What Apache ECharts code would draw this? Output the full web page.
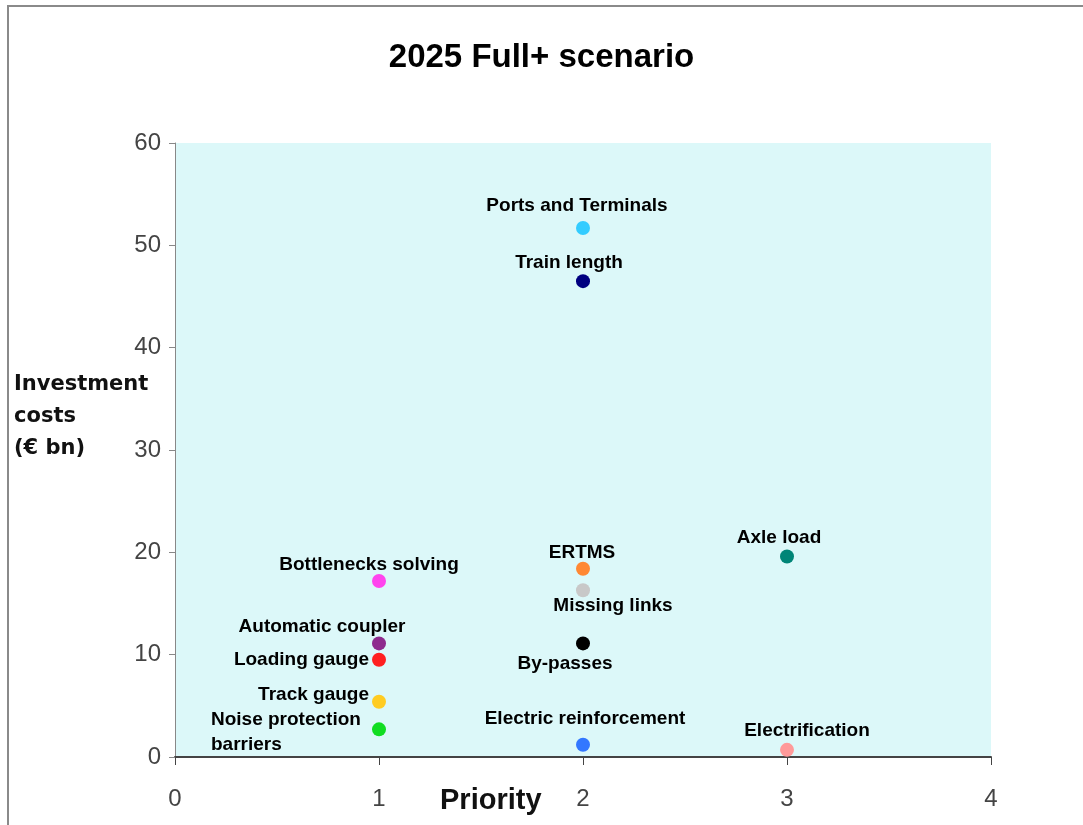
<!DOCTYPE html>
<html>
<head>
<meta charset="utf-8">
<script src="https://cdn.jsdelivr.net/npm/echarts@6/dist/echarts.min.js"></script>
<style>
  html, body { margin: 0; padding: 0; background: #fff; }
  #chart { width: 1083px; height: 825px; }
</style>
</head>
<body>
<div id="chart"></div>
<script>
// data
const projects = ['Ports and Terminals', 'Train length', 'Axle load', 'Bottlenecks solving', 'ERTMS',
  'Missing links', 'By-passes', 'Automatic coupler', 'Loading gauge', 'Track gauge',
  'Noise protection\nbarriers', 'Electric reinforcement', 'Electrification']
const priority = [2, 2, 3, 1, 2, 2, 2, 1, 1, 1, 1, 2, 3]
const cost = [51.7, 46.5, 19.6, 17.2, 18.4, 16.3, 11.1, 11.1, 9.5, 5.4, 2.7, 1.2, 0.7]
const colors = ['#33ccff', '#000080', '#008577', '#ff44ee', '#ff8833', '#c8c8c8', '#000000',
  '#8e2a8e', '#ff2020', '#ffcc22', '#11dd22', '#3377ff', '#ff9a9a']
const xTicks = [0, 1, 2, 3, 4]
const yTicks = [0, 10, 20, 30, 40, 50, 60]

// label placement per point (style only)
const labelPlace = [
  {position: 'top', distance: 6, offset: [-6, 0]},
  {position: 'top', distance: 2, offset: [-14, 0]},
  {position: 'top', distance: 2, offset: [-8, 0]},
  {position: 'top', distance: 0, offset: [-10, 0]},
  {position: 'top', distance: -1, offset: [-1, 0]},
  {position: 'bottom', distance: -1, offset: [30, 0]},
  {position: 'bottom', distance: 4, offset: [-18, 0]},
  {position: 'top', distance: 0, offset: [-57, 0]},
  {position: 'left', distance: 3, offset: [0, 0]},
  {position: 'left', distance: 3, offset: [0, -7]},
  {position: [-161, -15], align: 'left', verticalAlign: 'top', lineHeight: 25},
  {position: 'top', distance: 9, offset: [2, 0]},
  {position: 'top', distance: 3, offset: [20, 0]}
]

const points = projects.map((name, i) => ({
  name: name,
  value: [priority[i], cost[i]],
  itemStyle: {color: colors[i], opacity: 1},
  label: Object.assign({show: true}, labelPlace[i])
}))

const myChart = echarts.init(document.getElementById('chart'))
const option = {
  backgroundColor: '#ffffff',
  animation: false,
  textStyle: {fontFamily: 'Liberation Sans'},
  title: {
    text: '2025 Full+ scenario',
    left: 'center',
    top: 36,
    textStyle: {fontSize: 33, fontWeight: 'bold', color: '#000', fontFamily: 'Liberation Sans'}
  },
  graphic: [
    {type: 'rect', shape: {x: 8, y: 6, width: 1090, height: 840},
      style: {fill: 'none', stroke: '#8a8a8a', lineWidth: 2}, silent: true},
    {type: 'text', left: 14, top: 369,
      style: {text: 'Investment\ncosts\n(€ bn)', fontSize: 21, fontWeight: 'bold', lineHeight: 32,
        fill: '#111', fontFamily: 'DejaVu Sans'}},
    {type: 'text', left: 440, top: 786,
      style: {text: 'Priority', fontSize: 29, fontWeight: 'bold', fill: '#111', fontFamily: 'Liberation Sans'}}
  ],
  grid: {
    left: 175, right: 92, top: 143, bottom: 68,
    show: true, backgroundColor: '#dcf8f9', borderWidth: 0
  },
  xAxis: {
    type: 'value',
    min: xTicks[0], max: xTicks[xTicks.length - 1], interval: 1,
    axisLine: {show: true, onZero: false, lineStyle: {color: '#444', width: 2}},
    axisTick: {show: true, length: 8, lineStyle: {color: '#444'}},
    splitLine: {show: false},
    axisLabel: {color: '#444', fontSize: 24, margin: 30}
  },
  yAxis: {
    type: 'value',
    min: yTicks[0], max: yTicks[yTicks.length - 1], interval: 10,
    axisLine: {show: true, lineStyle: {color: '#888', width: 1}},
    axisTick: {show: true, length: 6, lineStyle: {color: '#888'}},
    splitLine: {show: false},
    axisLabel: {color: '#444', fontSize: 24, margin: 14}
  },
  series: [{
    type: 'scatter',
    symbolSize: 14,
    label: {
      formatter: p => p.name,
      color: '#000',
      fontSize: 19,
      fontWeight: 'bold'
    },
    data: points
  }]
}
myChart.setOption(option)
</script>
</body>
</html>
